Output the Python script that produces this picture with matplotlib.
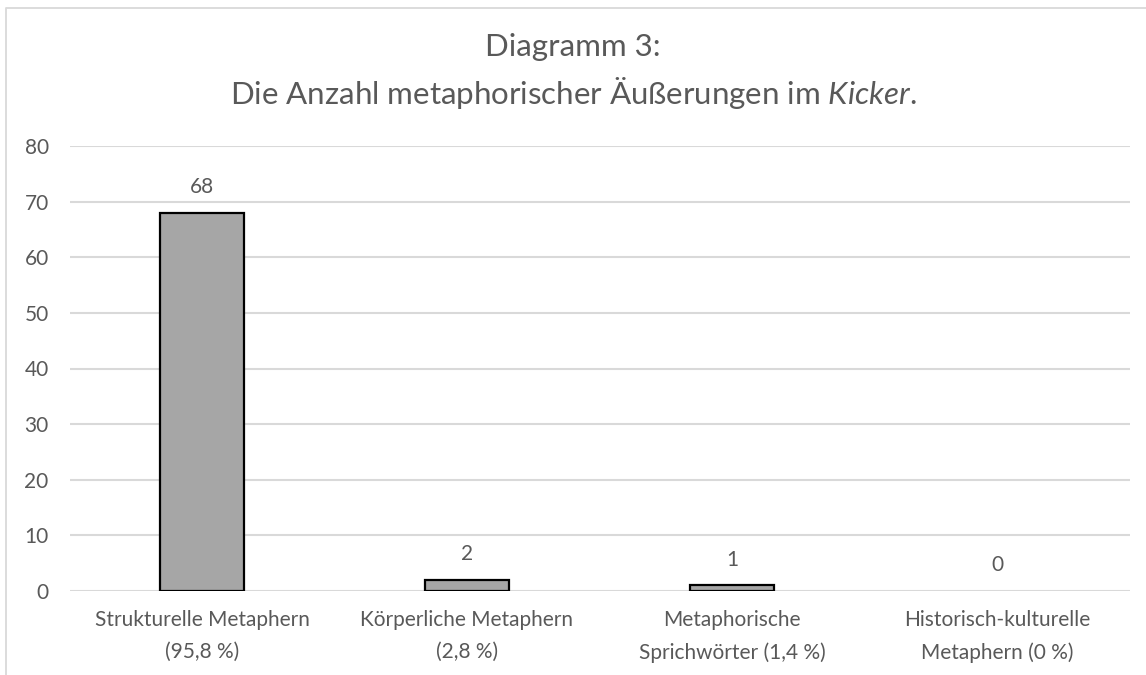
import matplotlib
matplotlib.use("Agg")
import matplotlib.pyplot as plt
from matplotlib.lines import Line2D

categories = ["Strukturelle Metaphern\n(95,8 %)",
              "Körperliche Metaphern\n(2,8 %)",
              "Metaphorische\nSprichwörter (1,4 %)",
              "Historisch-kulturelle\nMetaphern (0 %)"]
counts = [68, 2, 1, 0]
yticks = [0, 10, 20, 30, 40, 50, 60, 70, 80]

plt.rcParams['font.family'] = ['Lato', 'DejaVu Sans']
plt.rcParams['mathtext.fontset'] = 'custom'
plt.rcParams['mathtext.rm'] = 'Lato'
plt.rcParams['mathtext.it'] = 'Lato:italic'

txt = '#595959'
grid = '#d9d9d9'

fig = plt.figure(figsize=(11.46, 6.75), dpi=100)
ax = fig.add_axes([69.5/1146, 1-591/675, 1060/1146, 445/675])

x = list(range(len(categories)))
bars = ax.bar(x, counts, width=0.315, color='#a6a6a6', edgecolor='black',
              linewidth=1.6, zorder=3)
for b, v in zip(bars, counts):
    if v == 0:
        b.set_linewidth(0)
    ax.annotate(str(v), (b.get_x() + b.get_width()/2, v), xytext=(0, 18.5),
                textcoords='offset points', ha='center', va='center',
                fontsize=15, color=txt)

ax.set_xlim(-0.5, 3.5)
ax.set_ylim(0, 80)
ax.set_yticks(yticks)
ax.set_xticks(x)
ax.set_xticklabels(categories, fontsize=15, color=txt, linespacing=1.72)
ax.tick_params(axis='y', length=0, pad=15, labelsize=15, labelcolor=txt)
ax.tick_params(axis='x', length=0, pad=14)
ax.yaxis.grid(True, color=grid, linewidth=1.5, zorder=0)
for s in ax.spines.values():
    s.set_visible(False)

fig.text(0.5, 1-47/675, "Diagramm 3:", ha='center', va='center',
         fontsize=22.5, color=txt)
fig.text(0.5, 1-93/675, r"Die Anzahl metaphorischer Äußerungen im $\mathit{Kicker}$.",
         ha='center', va='center', fontsize=22.5, color=txt)

# chart border (cut off at right and bottom)
fig.add_artist(Line2D([6/1146, 6/1146, 1], [0, 1-8/675, 1-8/675],
                      transform=fig.transFigure, color=grid, linewidth=1.3))

fig.savefig("out.png", dpi=100)
